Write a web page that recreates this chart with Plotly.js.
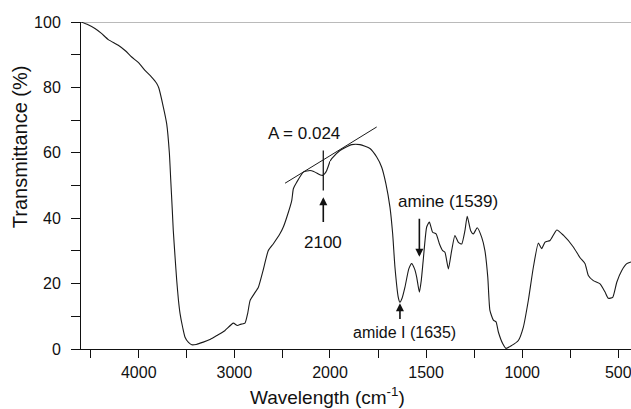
<!DOCTYPE html>
<html>
<head>
<meta charset="utf-8">
<script src="https://cdn.plot.ly/plotly-3.0.1.min.js"></script>
<style>html,body{margin:0;padding:0;background:#fff;}#chart{width:631px;height:409px;}</style>
</head>
<body>
<div id="chart"></div>
<script>
// Spectrum data (wavenumber in cm^-1, transmittance in %)
const wavenumber = [4604,4540,4458,4390,4318,4214,4140,4074,4000,3935,3870,3812,3790,3743,3708,3680,3666,3649,3639,3620,3603,3585,3568,3540,3516,3480,3446,3400,3325,3250,3185,3100,3011,2969,2930,2889,2860,2836,2790,2749,2700,2645,2592,2522,2488,2452,2400,2383,2348,2279,2209,2170,2139,2100,2076,2055,2034,2000,1991,1948,1887,1844,1792,1757,1731,1709,1688,1674,1662,1645,1636,1625,1610,1590,1575,1560,1549,1535,1525,1515,1497,1483,1466,1448,1431,1414,1402,1384,1367,1350,1332,1315,1298,1286,1268,1254,1234,1211,1194,1179,1168,1150,1136,1124,1101,1084,1054,1020,994,968,942,916,899,881,855,820,786,734,699,673,656,630,595,569,552,529,508,482,456,434];
const transmittance = [100.0,99.3,98.0,96.5,94.6,92.9,91.2,89.3,87.5,85.2,83.3,81.2,79.8,74.0,68.9,60.0,52.0,42.4,36.3,28.0,21.0,15.0,10.8,6.5,3.6,2.0,1.3,1.4,2.1,3.0,4.1,5.6,7.9,7.2,7.6,7.9,11.0,14.8,17.0,18.9,24.0,30.1,32.2,35.3,37.3,40.3,45.4,49.0,51.0,54.1,54.6,54.3,53.8,53.2,53.1,53.6,54.6,57.4,58.2,60.7,62.5,62.5,61.3,58.7,55.6,50.5,43.4,35.3,25.0,15.9,14.3,15.5,18.9,24.5,26.1,24.5,22.0,17.4,21.0,27.1,37.3,38.8,35.7,35.2,32.2,30.1,29.6,24.5,30.1,34.7,32.6,32.1,36.2,40.6,36.2,35.2,37.1,34.2,30.1,21.9,11.8,8.8,8.3,5.2,1.6,0.2,1.1,2.6,6.7,14.9,25.0,32.4,30.7,32.7,33.2,36.4,34.8,31.2,27.9,26.1,22.5,20.9,19.9,17.4,15.5,15.8,20.4,24.0,26.1,26.6];

// 100 % reference line
const refWn = [4604, 434];
const refT = [100, 100];

// Tangent baseline used for A = 0.024
const tangentWn = [2470, 2000, 1757];
const tangentT = [50.7, 59.1, 67.9];
// Vertical marker at 2100
const markWn = [2070, 2070];
const markT = [60.7, 48.5];

// Axis ticks
const xTicks1 = [4500, 4000, 3500, 3000, 2500];
const xTickText1 = ['', '4000', '', '3000', ''];
const xTicks2 = [2000, 1750, 1500, 1250, 1000, 750, 500];
const xTickText2 = ['2000', '', '1500', '', '1000', '', '500'];
const yTicks = [0,10,20,30,40,50,60,70,80,90,100];
const yTickText = ['0','','20','','40','','60','','80','','100'];

const BREAK = 2000;
function part(xs, ys, hi) {
  const ox = [], oy = [];
  for (let i = 0; i < xs.length; i++) {
    if ((hi && xs[i] >= BREAK) || (!hi && xs[i] <= BREAK)) { ox.push(xs[i]); oy.push(ys[i]); }
  }
  return {x: ox, y: oy};
}
function interpAt(xs, ys, w) {
  for (let i = 0; i < xs.length - 1; i++) {
    const a = xs[i], b = xs[i+1];
    if ((a - w) * (b - w) <= 0) { const t = (w - a) / (b - a); return ys[i] + t * (ys[i+1] - ys[i]); }
  }
  return ys[0];
}
function splitLine(xs, ys) {
  const hasBreak = xs.indexOf(BREAK) >= 0;
  let X = xs.slice(), Y = ys.slice();
  if (!hasBreak && Math.max(...xs) > BREAK && Math.min(...xs) < BREAK) {
    const yb = interpAt(xs, ys, BREAK);
    const pts = xs.map((v, i) => [v, ys[i]]); pts.push([BREAK, yb]);
    pts.sort((p, q) => q[0] - p[0]);
    X = pts.map(p => p[0]); Y = pts.map(p => p[1]);
  }
  return [part(X, Y, true), part(X, Y, false)];
}

const lineCol = '#1a1a1a';
const traces = [];
const [s1, s2] = splitLine(wavenumber, transmittance);
const [r1, r2] = splitLine(refWn, refT);
const [t1, t2] = splitLine(tangentWn, tangentT);

traces.push({x: r1.x, y: r1.y, xaxis: 'x', yaxis: 'y', mode: 'lines', line: {color: '#777', width: 1}, cliponaxis: false, hoverinfo: 'skip'});
traces.push({x: r2.x, y: r2.y, xaxis: 'x2', yaxis: 'y', mode: 'lines', line: {color: '#777', width: 1}, cliponaxis: false, hoverinfo: 'skip'});
traces.push({x: s1.x, y: s1.y, xaxis: 'x', yaxis: 'y', mode: 'lines', line: {color: lineCol, width: 1.1, shape: 'spline', smoothing: 0.5}});
traces.push({x: s2.x, y: s2.y, xaxis: 'x2', yaxis: 'y', mode: 'lines', line: {color: lineCol, width: 1.1, shape: 'spline', smoothing: 0.5}});
traces.push({x: t1.x, y: t1.y, xaxis: 'x', yaxis: 'y', mode: 'lines', line: {color: lineCol, width: 1}});
traces.push({x: t2.x, y: t2.y, xaxis: 'x2', yaxis: 'y', mode: 'lines', line: {color: lineCol, width: 1}});
traces.push({x: markWn, y: markT, xaxis: 'x', yaxis: 'y', mode: 'lines', line: {color: lineCol, width: 1.3}});

const font = {family: 'Liberation Sans, Arial, sans-serif', size: 16, color: '#111'};
const split = 0.4527;
const axCommon = {
  showline: true, linecolor: '#111', linewidth: 1, ticks: 'outside', ticklen: 8, tickwidth: 1, tickcolor: '#111',
  showgrid: false, zeroline: false, tickfont: font, ticklabelstandoff: 1, fixedrange: true
};

const layout = {
  width: 631, height: 409,
  margin: {l: 81, r: 0, t: 22, b: 60},
  paper_bgcolor: '#fff', plot_bgcolor: '#fff',
  showlegend: false,
  font: font,
  xaxis: Object.assign({}, axCommon, {domain: [0, split], range: [4604, 2000], tickmode: 'array', tickvals: xTicks1, ticktext: xTickText1, anchor: 'y'}),
  xaxis2: Object.assign({}, axCommon, {domain: [split, 1], range: [2000, 434], tickmode: 'array', tickvals: xTicks2, ticktext: xTickText2, anchor: 'y', ticklabeloverflow: 'allow'}),
  yaxis: Object.assign({}, axCommon, {range: [0, 100], tickmode: 'array', tickvals: yTicks, ticktext: yTickText, ticklen: 9, ticklabelstandoff: 7, anchor: 'x'}),
  annotations: [
    {xref: 'paper', yref: 'paper', x: -0.111, y: 0.62, text: 'Transmittance (%)', textangle: -90, showarrow: false, font: {family: font.family, size: 20, color: '#111'}, xanchor: 'center', yanchor: 'middle'},
    {xref: 'paper', yref: 'paper', x: 0.448, y: -0.143, text: 'Wavelength (cm<sup>-1</sup>)', showarrow: false, font: {family: font.family, size: 19, color: '#111'}, xanchor: 'center', yanchor: 'middle'},
    {xref: 'x', yref: 'y', x: 2277, y: 65.9, text: 'A = 0.024', showarrow: false, font: {family: font.family, size: 17, color: '#111'}},
    {xref: 'x', yref: 'y', x: 2070, y: 32.7, text: '2100', showarrow: false, font: {family: font.family, size: 17, color: '#111'}},
    {xref: 'x', yref: 'y', x: 2070, y: 46.4, axref: 'x', ayref: 'y', ax: 2070, ay: 38.4, text: '', showarrow: true, arrowhead: 2, arrowsize: 1, arrowwidth: 1.6, arrowcolor: '#111'},
    {xref: 'x2', yref: 'y', x: 1384, y: 45.2, text: 'amine (1539)', showarrow: false, font: {family: font.family, size: 17, color: '#111'}},
    {xref: 'x2', yref: 'y', x: 1535, y: 28.2, axref: 'x2', ayref: 'y', ax: 1535, ay: 40.3, text: '', showarrow: true, arrowhead: 2, arrowsize: 1, arrowwidth: 1.6, arrowcolor: '#111'},
    {xref: 'x2', yref: 'y', x: 1612, y: 5.1, text: 'amide I (1635)', showarrow: false, font: {family: font.family, size: 16, color: '#111'}},
    {xref: 'x2', yref: 'y', x: 1636, y: 14.0, axref: 'x2', ayref: 'y', ax: 1636, ay: 8.7, text: '', showarrow: true, arrowhead: 2, arrowsize: 1, arrowwidth: 1.6, arrowcolor: '#111'}
  ]
};

Plotly.newPlot('chart', traces, layout, {staticPlot: true, displayModeBar: false});
</script>
</body>
</html>
